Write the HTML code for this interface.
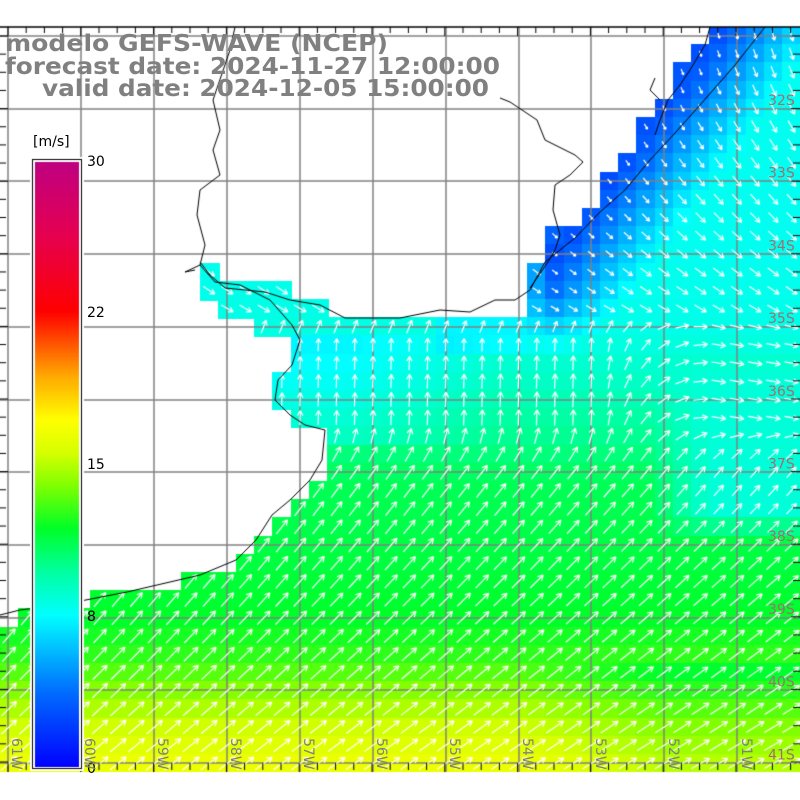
<!DOCTYPE html>
<html><head><meta charset="utf-8"><style>
html,body{margin:0;padding:0;background:#fff;}
#wrap{position:relative;width:800px;height:800px;overflow:hidden;}
canvas,svg{position:absolute;left:0;top:0;}
</style></head><body><div id="wrap">
<canvas id="c" width="800" height="800"></canvas>
<svg id="s" width="800" height="800" xmlns="http://www.w3.org/2000/svg">
<g font-family="DejaVu Sans, sans-serif" font-weight="bold" font-size="23" fill="#808080">
<text x="5" y="51" textLength="383" lengthAdjust="spacingAndGlyphs">modelo GEFS-WAVE (NCEP)</text>
<text x="5" y="74" textLength="495" lengthAdjust="spacingAndGlyphs">forecast date: 2024-11-27 12:00:00</text>
<text x="42" y="96" textLength="447" lengthAdjust="spacingAndGlyphs">valid date: 2024-12-05 15:00:00</text>
</g>
<g font-family="DejaVu Sans, sans-serif" font-size="14" fill="#000">
<text x="33" y="146">[m/s]</text>
<text x="87" y="166">30</text>
<text x="87" y="317">22</text>
<text x="87" y="469">15</text>
<text x="87" y="621">8</text>
<text x="87" y="773">0</text>
</g>
<g id="lab" font-family="DejaVu Sans, sans-serif" font-size="14" fill="#a07070"></g>
</svg>
</div>
<script>
const cv=document.getElementById('c'),g=cv.getContext('2d');
const ocean=[[0,625],[20,610],[127,595],[200,578],[240,560],[272,520],[310,485],[330,470],[325,430],[300,425],[285,410],[275,390],[290,365],[292,336],[236,318],[218,300],[200,300],[200,262],[218,262],[218,282],[290,282],[290,300],[327,300],[327,318],[520,318],[520,300],[530,288],[545,245],[565,225],[585,210],[600,188],[620,170],[640,130],[660,100],[680,60],[710,40],[715,27],[800,27],[800,772],[0,772]];
function inside(p,x,y){let c=false;for(let i=0,j=p.length-1;i<p.length;j=i++){const xi=p[i][0],yi=p[i][1],xj=p[j][0],yj=p[j][1];if(((yi>y)!=(yj>y))&&(x<(xj-xi)*(y-yi)/(yj-yi)+xi))c=!c;}return c;}
const stops=[[0,[0,0,255]],[4,[0,110,255]],[8,[0,255,255]],[10,[0,255,160]],[12,[0,255,40]],[14,[130,255,0]],[15.5,[215,255,0]],[17,[255,255,0]],[19,[255,170,0]],[22,[255,0,0]],[26,[230,0,80]],[30,[190,0,130]]];
function cmap(v){if(v<=0)return stops[0][1];for(let i=1;i<stops.length;i++){if(v<=stops[i][0]){const a=stops[i-1],b=stops[i],t=(v-a[0])/(b[0]-a[0]);return a[1].map((c,k)=>Math.round(c+(b[1][k]-c)*t));}}return stops[stops.length-1][1];}
function lerpT(tab,y){if(y<=tab[0][0])return tab[0][1];for(let i=1;i<tab.length;i++)if(y<=tab[i][0]){const a=tab[i-1],b=tab[i];return a[1]+(b[1]-a[1])*(y-a[0])/(b[0]-a[0]);}return tab[tab.length-1][1];}
const cl=v=>Math.max(0,Math.min(1,v));
function spd(x,y){
 let v=lerpT([[250,8.3],[330,8.6],[380,9.2],[440,10.3],[480,11.2],[560,11.6],[620,12],[660,12.8],[690,14],[720,15.2],[772,16.5]],y);
 if(x<500&&y>330&&y<440)v-=1.0*cl((500-x)/150);
 if(x>430&&x<530&&y>310&&y<345)v-=0.8;
 if(y>660&&x>520)v-=1.4*cl((x-520)/150);
 const ax=530,ay=290,bx=720,by=30;const dx=bx-ax,dy=by-ay,L=Math.hypot(dx,dy);
 const d=((x-ax)*(-dy)-(y-ay)*(-dx))/L;
 const ne=2.8+Math.abs(d)*0.065;
 if(y<360&&x>520){const w=cl((360-y)/60)*cl((x-520)/30);v=Math.min(v,v*(1-w)+Math.min(ne,8.4)*w);}
 if(x>650&&y>360&&y<540){const w=cl((x-650)/60)*cl((y-360)/20)*cl((540-y)/30);v=v*(1-w)+8.8*w;}
 return v;}
function ang(x,y){
 let a;
 if(y<310){a=30+(310-y)/280*45;}
 else if(y<440){const t=cl((x-600)/120);a=-88*(1-t)+10*t;if(y<330){const w=(330-y)/20;a=a*(1-w)+30*w;}}
 else{a=-62+(y-440)/330*22+(x/800)*12;}
 if(y>420&&y<460){const w=(y-420)/40;const t=cl((x-600)/120);const up=-88*(1-t)+10*t;const lo=-62+(x/800)*12;a=up*(1-w)+lo*w;}
 return a*Math.PI/180;}
g.fillStyle='#fff';g.fillRect(0,0,800,800);
const cs=18.2,x0=200-cs*11,y0=263-cs*14;
const cells=[];
for(let i=0;i<46;i++)for(let j=0;j<45;j++){const x=x0+i*cs,y=y0+j*cs,cx=x+cs/2,cy=y+cs/2;
 if(cy<27||cy>780)continue;if(!inside(ocean,cx,cy))continue;
 const v=spd(cx,cy);const c=cmap(v);g.fillStyle=`rgb(${c})`;g.fillRect(Math.floor(x),Math.max(27,Math.floor(y)),Math.ceil(cs)+1,Math.ceil(cs)+1);cells.push([cx,cy,v]);}
g.fillStyle='#fff';g.fillRect(0,772,800,28);g.fillRect(0,0,800,27);
g.strokeStyle='#808080';g.lineWidth=1.5;
const gx=[8,81,154,227,300,373,446,519,591,664,737],gy=[36,109,181,254,327,400,472,545,618,690,763];
gx.forEach(x=>{g.beginPath();g.moveTo(x,27);g.lineTo(x,772);g.stroke();});
gy.forEach(y=>{g.beginPath();g.moveTo(0,y);g.lineTo(800,y);g.stroke();});
g.strokeStyle='#fff';g.lineWidth=1.2;
cells.forEach(([cx,cy,v])=>{const a=ang(cx,cy);const L=Math.min(21,2+v*1.4);const ux=Math.cos(a),uy=Math.sin(a);
 const x1=cx-ux*L/2,y1=cy-uy*L/2,x2=cx+ux*L/2,y2=cy+uy*L/2;g.beginPath();g.moveTo(x1,y1);g.lineTo(x2,y2);
 const h=Math.min(6,L*0.4);[0.5,-0.5].forEach(s=>{const b=a+Math.PI+s;g.moveTo(x2,y2);g.lineTo(x2+Math.cos(b)*h,y2+Math.sin(b)*h);});g.stroke();});
g.strokeStyle='#000';g.lineWidth=1;
function pl(p){g.beginPath();g.moveTo(p[0][0],p[0][1]);p.slice(1).forEach(q=>g.lineTo(q[0],q[1]));g.stroke();}
pl([[0,615],[20,610],[60,605],[127,592],[200,575],[236,560],[256,540],[272,515],[290,500],[310,480],[322,460],[325,430],[305,425],[290,415],[275,400],[278,380],[292,365],[300,340],[292,325],[270,300],[240,285],[215,282],[200,265],[185,272],[195,270]]);
pl([[200,262],[210,275],[225,288],[245,290],[265,292],[290,300],[320,305],[345,318],[400,318],[440,310],[470,312],[495,300],[515,300],[530,290],[545,262],[575,238],[600,212],[625,190],[650,160],[675,133],[700,105],[735,65],[765,27]]);
pl([[235,27],[230,50],[213,100],[220,130],[213,150],[220,175],[200,190],[197,215],[205,245],[200,265]]);
pl([[500,98],[510,102],[537,120],[545,140],[575,155],[583,162],[570,175],[555,185],[553,210],[560,235],[555,250],[548,262],[530,288]]);
pl([[655,135],[660,120],[668,100],[680,85],[690,70],[705,45],[710,27]]);
pl([[660,100],[650,90],[655,78]]);
g.lineWidth=1.5;g.beginPath();g.moveTo(0,27);g.lineTo(800,27);g.stroke();
g.lineWidth=1;
for(let k=-1;k<45;k++){const x=8+k*18.2;if(x<0||x>800)continue;const maj=(k%4==0);g.beginPath();g.moveTo(x,27);g.lineTo(x,maj?36:33);g.moveTo(x,763);g.lineTo(x,maj?772:770);g.stroke();}
for(let k=-1;k<45;k++){const y=36+k*18.15;if(y<27||y>772)continue;const maj=(k%4==0);g.beginPath();g.moveTo(0,y);g.lineTo(maj?8:6,y);g.moveTo(800,y);g.lineTo(maj?791:793,y);g.stroke();}
g.fillStyle='#fff';g.fillRect(30,157,54,614);
g.strokeStyle='#000';g.lineWidth=1;g.strokeRect(32.5,159.5,49,609);
const cbT=[[160,30],[311,22],[463,15],[615,8],[767,0]];
for(let y=162;y<767;y++){const v=lerpT(cbT,y);g.fillStyle=`rgb(${cmap(v)})`;g.fillRect(35,y,44,1);}
const lab=document.getElementById('lab');let h='';
['32S','33S','34S','35S','36S','37S','38S','39S','40S','41S'].forEach((t,i)=>{h+=`<text x="768" y="${105+i*72.7}">${t}</text>`;});
['61W','60W','59W','58W','57W','56W','55W','54W','53W','52W','51W'].forEach((t,i)=>{const x=12+i*73;h+=`<text transform="translate(${x},738) rotate(90)" fill="#808080">${t}</text>`;});
lab.innerHTML=h;
</script>
</body></html>
